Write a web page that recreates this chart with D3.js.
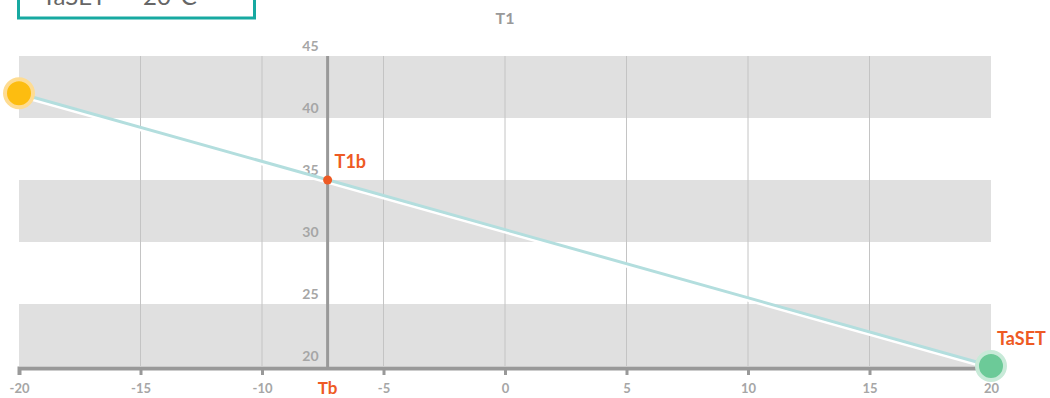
<!DOCTYPE html>
<html>
<head>
<meta charset="utf-8">
<script src="https://cdn.jsdelivr.net/npm/d3@7"></script>
<style>
  body { margin: 0; background: #fff; font-family: Lato, "Open Sans", sans-serif; }
  svg { display: block; }
</style>
</head>
<body>
<div id="chart"></div>
<script>
// chart values
var xTicks = [-20, -15, -10, -5, 0, 5, 10, 15, 20];
var yTicks = [20, 25, 30, 35, 40, 45];
var bands = [[40, 45], [30, 35], [20, 25]];
var curve = [{x: -20, y: 42}, {x: 20, y: 20}];
var Tb = -7.3, T1b = 35;
var setLabel = 'TaSET', setValue = '20°C';

var width = 1050, height = 398;
var orange = '#ee5a24', axisGray = '#999', labelGray = '#a6a6a6';

var svg = d3.select('#chart').append('svg')
  .attr('width', width)
  .attr('height', height);

var x = d3.scaleLinear().domain([-20, 20]).range([19, 991]);
var y = d3.scaleLinear().domain([20, 45]).range([366, 56]);

//background bands
svg.append('g').selectAll('rect')
  .data(bands)
  .enter().append('rect')
    .attr('x', x(-20))
    .attr('width', x(20) - x(-20))
    .attr('y', function(d) { return y(d[1]); })
    .attr('height', function(d) { return y(d[0]) - y(d[1]); })
    .attr('fill', '#e0e0e0');

//vertical grid
svg.append('g').selectAll('line')
  .data(xTicks.slice(1, -1))
  .enter().append('line')
    .attr('x1', function(d) { return x(d); })
    .attr('x2', function(d) { return x(d); })
    .attr('y1', y(45))
    .attr('y2', y(20))
    .attr('stroke', '#c4c4c4')
    .attr('stroke-width', 1);

//x axis
var xAxis = svg.append('g')
  .attr('transform', 'translate(0,' + (y(20) + 2) + ')')
  .call(d3.axisBottom(x).tickValues(xTicks).tickSize(7).tickPadding(9).tickFormat(function(d) { return String(d); }));
xAxis.select('.domain').attr('stroke', axisGray).attr('stroke-width', 4);
xAxis.selectAll('.tick line').attr('stroke', axisGray).attr('stroke-width', 3);
xAxis.selectAll('.tick text')
  .attr('fill', labelGray)
  .style('font-family', 'Lato')
  .style('font-weight', 'bold')
  .style('font-size', '13px');

//y axis at Tb
svg.append('line')
  .attr('x1', x(Tb)).attr('x2', x(Tb))
  .attr('y1', y(45)).attr('y2', y(20) + 1)
  .attr('stroke', axisGray)
  .attr('stroke-width', 3);

svg.append('g').selectAll('text')
  .data(yTicks)
  .enter().append('text')
    .attr('x', x(Tb) - 9)
    .attr('y', function(d) { return y(d) - 5; })
    .attr('text-anchor', 'end')
    .attr('fill', labelGray)
    .style('font-family', 'Lato')
    .style('font-weight', 'bold')
    .style('font-size', '14px')
    .text(function(d) { return d; });

//title
svg.append('text')
  .attr('x', x(0))
  .attr('y', 24)
  .attr('text-anchor', 'middle')
  .attr('fill', axisGray)
  .style('font-family', 'Lato')
  .style('font-weight', 'bold')
  .style('font-size', '16px')
  .text('T1');

//curve
var line = d3.line().x(function(d) { return x(d.x); }).y(function(d) { return y(d.y); });
svg.append('path')
  .datum(curve)
  .attr('d', line)
  .attr('transform', 'translate(0,2.5)')
  .attr('fill', 'none')
  .attr('stroke', '#fff')
  .attr('stroke-width', 3);
svg.append('path')
  .datum(curve)
  .attr('d', line)
  .attr('fill', 'none')
  .attr('stroke', '#b3dede')
  .attr('stroke-width', 3);

//end points
svg.append('circle')
  .attr('cx', x(curve[0].x)).attr('cy', y(curve[0].y))
  .attr('r', 14)
  .attr('fill', '#fdbd10')
  .attr('stroke', '#fedc92')
  .attr('stroke-width', 4);
svg.append('circle')
  .attr('cx', x(curve[1].x)).attr('cy', y(curve[1].y))
  .attr('r', 14)
  .attr('fill', '#6cca98')
  .attr('stroke', '#c8ead8')
  .attr('stroke-width', 4);

//T1b point
svg.append('circle')
  .attr('cx', x(Tb)).attr('cy', y(T1b))
  .attr('r', 4.5)
  .attr('fill', orange);

svg.append('text')
  .attr('x', x(Tb) + 7)
  .attr('y', y(T1b) - 12)
  .attr('fill', orange)
  .style('font-family', 'Lato')
  .style('font-weight', 'bold')
  .style('font-size', '18px')
  .text('T1b');

svg.append('text')
  .attr('x', x(20) + 6)
  .attr('y', y(20) - 21)
  .attr('fill', orange)
  .style('font-family', 'Lato')
  .style('font-weight', 'bold')
  .style('font-size', '18px')
  .text('TaSET');

svg.append('text')
  .attr('x', x(Tb))
  .attr('y', y(20) + 28)
  .attr('text-anchor', 'middle')
  .attr('fill', orange)
  .style('font-family', 'Lato')
  .style('font-weight', 'bold')
  .style('font-size', '17px')
  .text('Tb');

//setpoint box
svg.append('rect')
  .attr('x', 18.5).attr('y', -30)
  .attr('width', 236).attr('height', 48)
  .attr('fill', '#fff')
  .attr('stroke', '#17a9a1')
  .attr('stroke-width', 3);
svg.append('text')
  .attr('x', 42).attr('y', 5)
  .attr('fill', '#666')
  .style('font-family', 'Lato')
  .style('font-size', '24px')
  .text(setLabel);
svg.append('text')
  .attr('x', 143).attr('y', 5)
  .attr('fill', '#666')
  .style('font-family', 'Lato')
  .style('font-size', '24px')
  .text(setValue);
</script>
</body>
</html>
